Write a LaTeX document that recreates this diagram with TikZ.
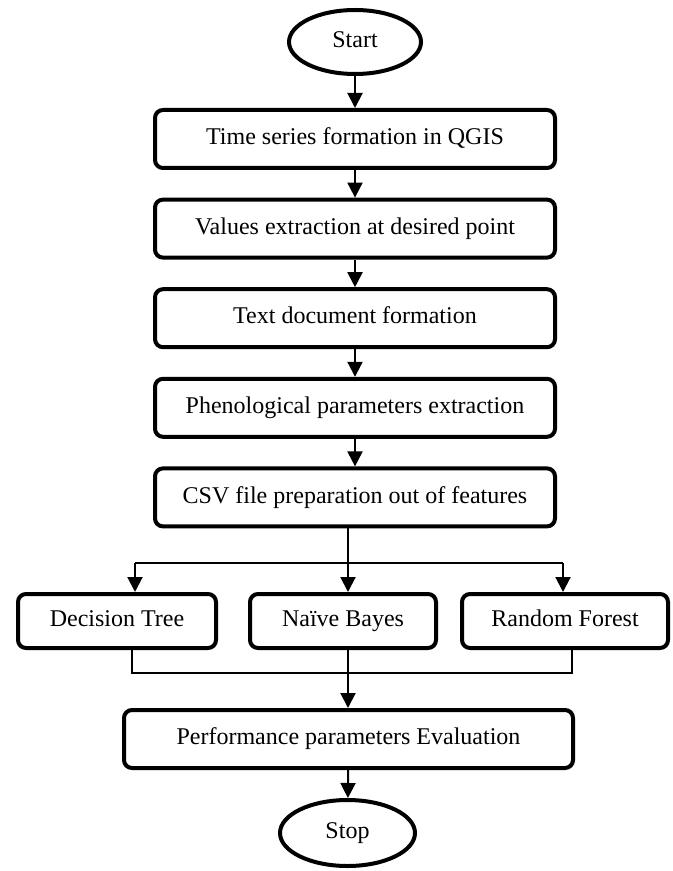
\documentclass[tikz,border=0pt]{standalone}
\usepackage{fontspec}
\setmainfont{Liberation Serif}
\usetikzlibrary{arrows, arrows.meta, shapes.geometric}

\begin{document}
\begin{tikzpicture}[x=0.5pt, y=-0.5pt,
	box/.style={rectangle, draw=black, line width=2pt, rounded corners=4pt, inner sep=0pt, text height=8.2pt, text depth=2.6pt, minimum width=200pt, minimum height=29pt, font=\fontsize{12}{14}\selectfont},
	oval/.style={ellipse, draw=black, line width=2pt, inner sep=0pt, text height=8.2pt, text depth=2.6pt, minimum width=66pt, minimum height=32pt, font=\fontsize{12}{14}\selectfont},
	flow/.style={-{Triangle[length=7.5pt, width=7.5pt]}, line width=1pt},
	link/.style={line width=0.65pt}]
	\useasboundingbox (0,0) rectangle (673,871);
	\node[oval](start) at (355,42){Start};
	\foreach \lab [count=\c, evaluate=\c as \y using {49.4 + 89.6*\c}] in {Time series formation in QGIS, Values extraction at desired point, Text document formation, Phenological parameters extraction, CSV file preparation out of features}
	{
		\node[box](\c) at (355,\y){\lab};
	}
	\node[box, minimum width=99pt, minimum height=27pt](dt) at (117,621){Decision Tree};
	\node[box, minimum width=93pt, minimum height=27pt](nb) at (343,621){Naïve Bayes};
	\node[box, minimum width=103pt, minimum height=27pt](rf) at (565,621){Random Forest};
	\node[box, minimum width=224.5pt](perf) at (348.5,739){Performance parameters Evaluation};
	\node[oval, minimum width=67.5pt, minimum height=33pt](stop) at (347.5,833){Stop};
	\coordinate (split) at (348,563);
	\coordinate (sl) at (135,563);
	\coordinate (sr) at (563,563);
	\coordinate (ml) at (132,673);
	\coordinate (mr) at (572,673);
	\draw[flow] (start) -- (1);
	\foreach \a/\b in {1/2, 2/3, 3/4, 4/5}
		\draw[flow] (\a) -- (\b);
	\draw[link] (5.south -| split) -- (split);
	\draw[link] (sl) -- (sr);
	\draw[flow] (split) -- (split |- nb.north);
	\draw[flow] (sl) -- (sl |- dt.north);
	\draw[flow] (sr) -- (sr |- rf.north);
	\draw[link] (ml |- dt.south) -- (ml) -- (mr) -- (mr |- rf.south);
	\draw[flow] (split |- nb.south) -- (split |- perf.north);
	\draw[flow] (perf) -- (stop);
\end{tikzpicture}
\end{document}
